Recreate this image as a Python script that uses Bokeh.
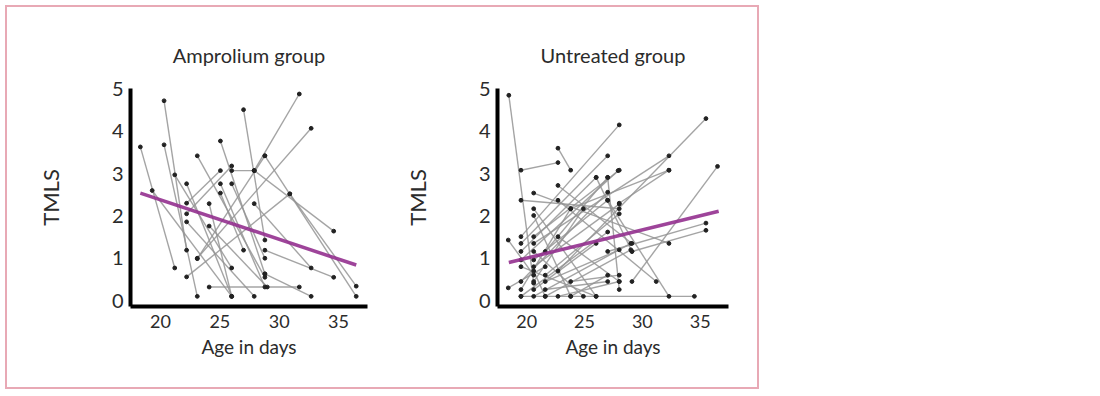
from bokeh.plotting import figure
from bokeh.layouts import row
from bokeh.models import ColumnDataSource, FixedTicker
from bokeh.embed import file_html
from bokeh.resources import INLINE

# ---------------- data ----------------
x_ticks = [20, 25, 30, 35]
y_ticks = [0, 1, 2, 3, 4, 5]

# Amprolium group: each subject measured twice (start -> end)
amp_age_start = [18.3, 19.3, 20.3, 20.3, 21.2, 22.2, 22.2, 22.2, 22.2, 22.2,
                 23.1, 23.1, 24.1, 24.1, 24.1, 25.05, 26.0, 25.05, 25.05, 27.0,
                 27.9, 27.9, 28.8, 30.9, 28.8, 28.8, 27.9, 23.1, 26.0]
amp_tmls_start = [3.63, 2.60, 4.72, 3.68, 2.97, 2.76, 2.30, 2.05, 1.86, 0.56,
                  1.00, 3.42, 2.29, 1.76, 0.32, 3.77, 3.07, 2.76, 2.54, 4.51,
                  3.07, 3.07, 3.42, 2.52, 1.19, 0.63, 2.29, 0.99, 2.76]
amp_age_end = [21.2, 26.0, 22.2, 23.1, 26.0, 26.0, 25.05, 26.0, 27.9, 30.9,
               32.7, 28.8, 26.0, 29.0, 31.7, 28.8, 27.9, 28.8, 27.0, 28.8,
               34.6, 31.7, 36.5, 36.5, 34.6, 32.7, 32.7, 28.8, 28.8]
amp_tmls_end = [0.77, 0.10, 1.19, 0.10, 0.77, 0.10, 3.07, 3.18, 0.10, 2.52,
                4.07, 0.55, 0.10, 0.32, 0.32, 0.63, 3.07, 0.32, 1.19, 1.43,
                1.64, 4.88, 0.10, 0.34, 0.55, 0.10, 0.77, 3.42, 1.00]
amp_fit_age = [18.3, 36.5]
amp_fit_tmls = [2.54, 0.84]

# Untreated group
unt_age_start = [18.45, 19.5, 22.7, 18.4, 18.4, 19.5, 20.6, 20.6, 20.6, 19.5,
                 19.5, 20.6, 20.6, 21.6, 22.7, 29.1, 27.0, 29.1, 19.5, 22.7,
                 22.7, 26.0, 27.0, 23.8, 19.5, 19.5, 19.5, 20.6, 20.6, 21.6,
                 20.6, 19.5, 19.5, 20.6, 21.6, 21.6, 20.6, 22.7, 21.6, 23.8,
                 23.8, 20.6, 22.7, 20.6, 19.5, 27.0, 28.0]
unt_tmls_start = [4.85, 3.08, 3.60, 1.43, 0.30, 2.37, 2.54, 2.17, 2.01, 1.51,
                  1.35, 1.51, 1.35, 1.16, 0.70, 0.45, 1.16, 1.16, 0.10, 2.72,
                  2.37, 2.91, 2.91, 2.17, 1.16, 0.96, 0.45, 0.96, 0.80, 0.60,
                  0.45, 0.26, 0.10, 0.10, 0.10, 0.45, 0.26, 0.10, 0.26, 0.10,
                  0.45, 1.16, 1.51, 0.70, 0.80, 2.37, 2.30]
unt_age_end = [20.6, 22.7, 23.8, 20.6, 21.6, 28.0, 32.3, 26.0, 23.8, 28.0,
               27.0, 28.0, 32.3, 27.0, 35.5, 36.5, 35.5, 35.5, 34.5, 29.1,
               31.2, 29.1, 28.0, 32.3, 26.0, 27.9, 27.0, 27.0, 28.0, 28.0,
               24.9, 23.8, 27.0, 29.0, 29.0, 28.0, 26.0, 28.0, 27.0, 27.0,
               28.0, 24.9, 28.0, 21.6, 26.0, 32.3, 32.3]
unt_tmls_end = [0.41, 3.26, 3.08, 0.60, 0.80, 2.17, 1.35, 0.10, 0.10, 4.15,
                3.42, 3.08, 3.42, 2.91, 4.30, 3.17, 1.83, 1.66, 0.10, 1.35,
                0.45, 1.16, 0.26, 3.08, 2.91, 3.07, 2.56, 2.37, 2.28, 2.05,
                2.17, 2.17, 1.62, 1.35, 1.20, 1.20, 1.35, 0.45, 0.45, 0.60,
                0.60, 0.10, 0.45, 0.10, 0.10, 0.10, 3.08]
unt_fit_age = [18.45, 36.6]
unt_fit_tmls = [0.90, 2.11]

FONT = "Lato"
TXT = "#2b2b2b"


def panel(title, xs, ys, xe, ye, fx, fy, width, mbl, mbr):
    p = figure(width=width, height=380, x_range=(17.47, 37.45), y_range=(-0.14, 5.01),
               output_backend="svg", toolbar_location=None,
               min_border_left=mbl, min_border_right=mbr,
               min_border_top=81, min_border_bottom=81)
    p.title.text = title
    p.title.align = "center"
    p.title.text_font = FONT
    p.title.text_font_size = "20px"
    p.title.text_font_style = "normal"
    p.title.text_color = TXT
    p.title.standoff = 44
    p.outline_line_color = None
    p.grid.visible = False
    p.background_fill_color = "white"
    p.border_fill_color = "white"

    src = ColumnDataSource(dict(xs=xs, ys=ys, xe=xe, ye=ye))
    p.segment(x0="xs", y0="ys", x1="xe", y1="ye", source=src,
              line_color="#949494", line_width=1.4, line_alpha=0.85)
    p.scatter(x="xs", y="ys", source=src, size=3.8, color="#222222")
    p.scatter(x="xe", y="ye", source=src, size=3.8, color="#222222")
    p.line(fx, fy, line_color="#94308f", line_width=3.5, line_alpha=0.9)

    for ax in (p.xaxis[0], p.yaxis[0]):
        ax.axis_line_color = "black"
        ax.axis_line_width = 4
        ax.major_tick_line_color = None
        ax.minor_tick_line_color = None
        ax.major_tick_out = 0
        ax.major_label_text_font = FONT
        ax.major_label_text_color = TXT
        ax.axis_label_text_font = FONT
        ax.axis_label_text_font_style = "normal"
        ax.axis_label_text_color = TXT
    p.xaxis.ticker = FixedTicker(ticks=x_ticks)
    p.yaxis.ticker = FixedTicker(ticks=y_ticks)
    p.xaxis.axis_label = "Age in days"
    p.yaxis.axis_label = "TMLS"
    p.xaxis.major_label_text_font_size = "18px"
    p.yaxis.major_label_text_font_size = "20px"
    p.xaxis.axis_label_text_font_size = "19px"
    p.yaxis.axis_label_text_font_size = "22px"
    p.xaxis.major_label_standoff = 8
    p.xaxis.axis_label_standoff = 4
    p.yaxis.major_label_standoff = 7
    p.yaxis.axis_label_standoff = 45
    return p


p1 = panel("Amprolium group", amp_age_start, amp_tmls_start, amp_age_end, amp_tmls_end,
           amp_fit_age, amp_fit_tmls, 393, 123, 33)
p2 = panel("Untreated group", unt_age_start, unt_tmls_start, unt_age_end, unt_tmls_end,
           unt_fit_age, unt_fit_tmls, 357, 91, 29)

layout = row(p1, p2, margin=(5, 0, 0, 5),
             styles={"border": "2px solid #e8a9b5"})

open("out.html", "w").write(file_html(layout, INLINE))
